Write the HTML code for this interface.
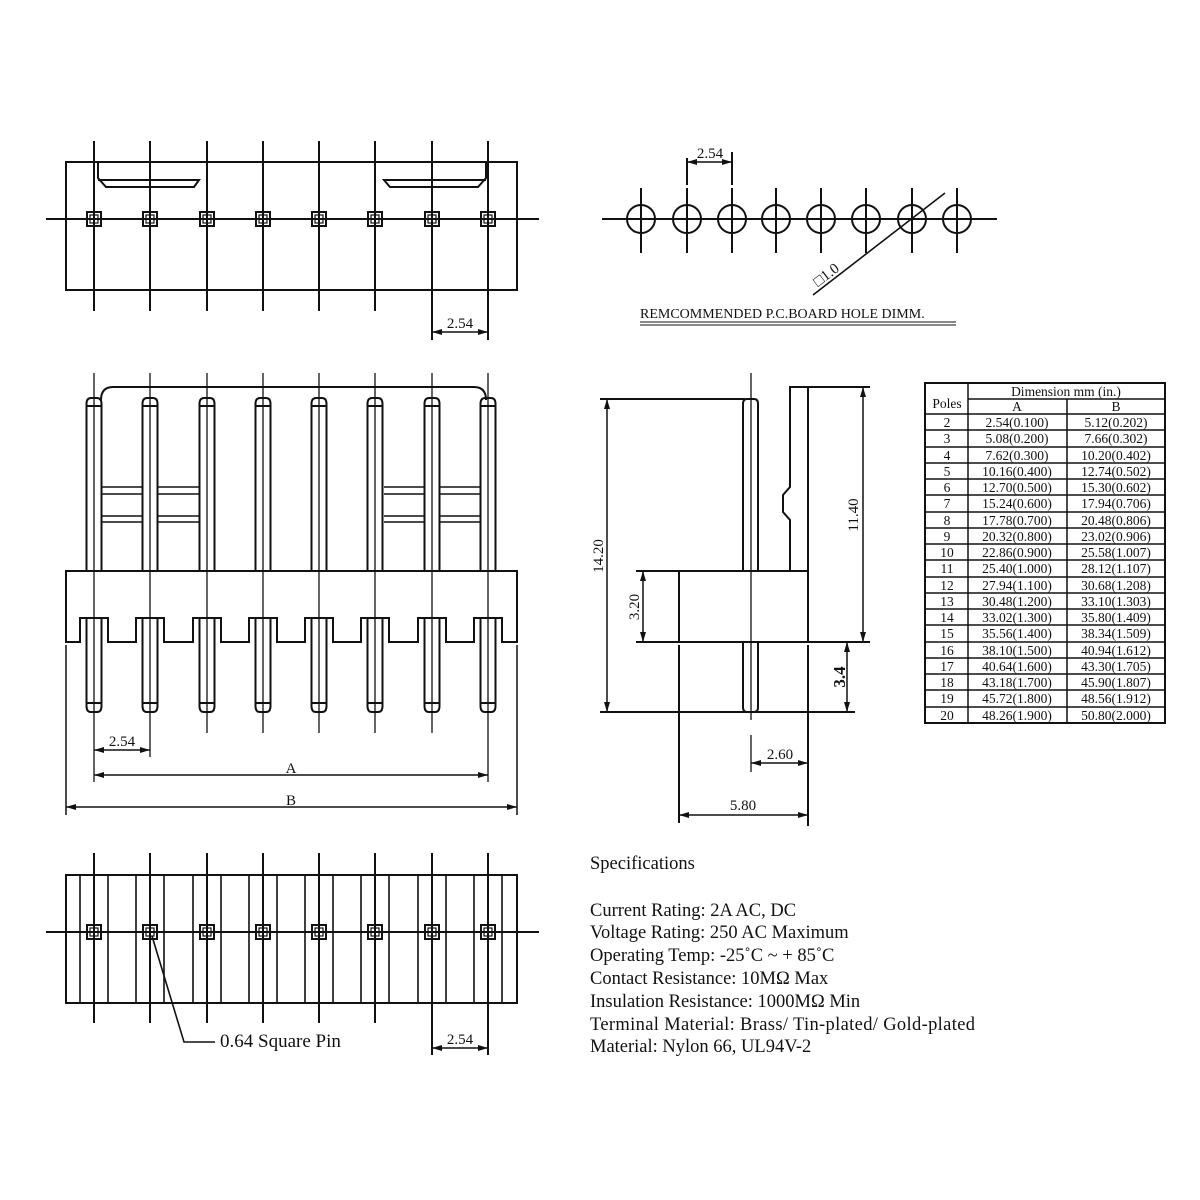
<!DOCTYPE html>
<html><head><meta charset="utf-8"><style>
html,body{margin:0;padding:0;background:#fff}
svg{display:block}
text{font-family:"Liberation Serif",serif;fill:#111}
</style></head><body>
<svg width="1200" height="1200" viewBox="0 0 1200 1200" xmlns="http://www.w3.org/2000/svg">
<defs>
<marker id="a" markerWidth="10" markerHeight="6" refX="10" refY="3" orient="auto-start-reverse" markerUnits="userSpaceOnUse"><path d="M0,0 L10,3 L0,6z" fill="#111"/></marker>
<g id="sq"><rect x="-7" y="-7" width="14" height="14" fill="none" stroke="#111" stroke-width="2"/><rect x="-4" y="-4" width="8" height="8" fill="none" stroke="#111" stroke-width="1.2"/><path d="M0,-4V4M-4,0H4" stroke="#111" stroke-width="1"/></g>
<g id="up"><path d="M-7.5,571V404Q-7.5,398 -3,398H3Q7.5,398 7.5,404V571M-7.5,406H7.5" fill="none" stroke="#111" stroke-width="2"/></g>
<g id="lo"><path d="M-7.5,618V706Q-7.5,712 -3,712H3Q7.5,712 7.5,706V618M-7.5,703H7.5" fill="none" stroke="#111" stroke-width="2"/></g>
</defs>
<g stroke="#111" fill="none" stroke-width="2">
<!-- TOP VIEW -->
<rect x="66" y="162" width="451" height="128"/>
<path d="M98,162V178L106,187H194L199,180H98"/>
<path d="M486,162V178L478,187H390L384,180H486"/>
<path d="M46,219H539"/>
<path d="M94,141V311M150,141V311M207,141V311M263,141V311M319,141V311M375,141V311M432,141V340M488,141V340"/>
<path d="M432,332H488" marker-start="url(#a)" marker-end="url(#a)" stroke-width="1.5"/>
</g>
<use href="#sq" x="94" y="219"/><use href="#sq" x="150" y="219"/><use href="#sq" x="207" y="219"/><use href="#sq" x="263" y="219"/><use href="#sq" x="319" y="219"/><use href="#sq" x="375" y="219"/><use href="#sq" x="432" y="219"/><use href="#sq" x="488" y="219"/>
<text x="460" y="328" font-size="15" text-anchor="middle">2.54</text>

<!-- FRONT VIEW -->
<g stroke="#111" fill="none" stroke-width="2">
<path d="M101,400Q101,387 113,387H474Q486,387 486,400"/>
<path d="M66,571H517V642H502V618H474V642H446V618H418V642H389V618H361V642H333V618H305V642H277V618H249V642H221V618H193V642H164V618H136V642H108V618H80V642H66Z"/>
<path d="M101,487H143M101,494H143M101,516H143M101,522H143M158,487H199M158,494H199M158,516H199M158,522H199M384,487H424M384,494H424M384,516H424M384,522H424M440,487H481M440,494H481M440,516H481M440,522H481" stroke-width="1.6"/>
<path d="M94,373V782M150,373V757M207,373V733M263,373V733M319,373V733M375,373V733M432,373V733M488,373V782" stroke-width="1.3"/>
<path d="M66,645V815M517,645V815" stroke-width="1.5"/>
<path d="M94,750H150" marker-start="url(#a)" marker-end="url(#a)" stroke-width="1.5"/>
<path d="M94,775H488" marker-start="url(#a)" marker-end="url(#a)" stroke-width="1.5"/>
<path d="M66,807H517" marker-start="url(#a)" marker-end="url(#a)" stroke-width="1.5"/>
</g>
<use href="#up" x="94"/><use href="#up" x="150"/><use href="#up" x="207"/><use href="#up" x="263"/><use href="#up" x="319"/><use href="#up" x="375"/><use href="#up" x="432"/><use href="#up" x="488"/>
<use href="#lo" x="94"/><use href="#lo" x="150"/><use href="#lo" x="207"/><use href="#lo" x="263"/><use href="#lo" x="319"/><use href="#lo" x="375"/><use href="#lo" x="432"/><use href="#lo" x="488"/>
<text x="122" y="746" font-size="15" text-anchor="middle">2.54</text>
<text x="291" y="773" font-size="15" text-anchor="middle">A</text>
<text x="291" y="805" font-size="15" text-anchor="middle">B</text>

<!-- BOTTOM VIEW -->
<g stroke="#111" fill="none" stroke-width="2">
<rect x="66" y="875" width="451" height="128"/>
<path d="M80,875V1003M108,875V1003M136,875V1003M164,875V1003M193,875V1003M221,875V1003M249,875V1003M277,875V1003M305,875V1003M333,875V1003M361,875V1003M389,875V1003M418,875V1003M446,875V1003M474,875V1003M502,875V1003" stroke-width="1.6"/>
<path d="M46,932H539"/>
<path d="M94,853V1023M150,853V1023M207,853V1023M263,853V1023M319,853V1023M375,853V1023M432,853V1055M488,853V1055"/>
<path d="M432,1048H488" marker-start="url(#a)" marker-end="url(#a)" stroke-width="1.5"/>
<path d="M152,936L184,1042H215" stroke-width="1.6"/>
</g>
<use href="#sq" x="94" y="932"/><use href="#sq" x="150" y="932"/><use href="#sq" x="207" y="932"/><use href="#sq" x="263" y="932"/><use href="#sq" x="319" y="932"/><use href="#sq" x="375" y="932"/><use href="#sq" x="432" y="932"/><use href="#sq" x="488" y="932"/>
<text x="460" y="1044" font-size="15" text-anchor="middle">2.54</text>
<text x="220" y="1047" font-size="19">0.64 Square Pin</text>

<!-- HOLE PATTERN -->
<g stroke="#111" fill="none" stroke-width="2">
<path d="M602,219H997"/>
<circle cx="641" cy="219" r="14"/><circle cx="687" cy="219" r="14"/><circle cx="732" cy="219" r="14"/><circle cx="776" cy="219" r="14"/><circle cx="821" cy="219" r="14"/><circle cx="866" cy="219" r="14"/><circle cx="912" cy="219" r="14"/><circle cx="957" cy="219" r="14"/>
<path d="M641,188V253M687,188V253M732,188V253M776,188V253M821,188V253M866,188V253M912,188V253M957,188V253"/>
<path d="M687,158V185M732,152V185"/>
<path d="M687,162H732" marker-start="url(#a)" marker-end="url(#a)" stroke-width="1.5"/>
<path d="M813,295L945,193" stroke-width="1.6"/>
<path d="M640,322H956M640,325H956" stroke-width="1"/>
</g>
<text x="710" y="158" font-size="15" text-anchor="middle">2.54</text>
<text x="0" y="0" font-size="15" transform="translate(818,287) rotate(-37)">□1.0</text>
<text x="640" y="318" font-size="14">REMCOMMENDED P.C.BOARD HOLE DIMM.</text>

<!-- SIDE VIEW -->
<g stroke="#111" fill="none" stroke-width="2">
<path d="M743,571V404Q743,399 747,399H754Q758,399 758,404V571"/>
<path d="M743,642V707Q743,712 747,712H754Q758,712 758,707V642"/>
<path d="M751,373V720M751,735V772" stroke-width="1.3"/>
<rect x="679" y="571" width="129" height="71"/>
<path d="M790,571V520L783,512V495L790,487V387H808V571"/>
<path d="M600,399H745M600,712H855M808,387H870M636,642H870M636,571H679"/>
<path d="M679,645V823M808,645V826"/>
<path d="M607,399V712" marker-start="url(#a)" marker-end="url(#a)" stroke-width="1.5"/>
<path d="M863,387V642" marker-start="url(#a)" marker-end="url(#a)" stroke-width="1.5"/>
<path d="M643,571V642" marker-start="url(#a)" marker-end="url(#a)" stroke-width="1.5"/>
<path d="M847,642V712" marker-start="url(#a)" marker-end="url(#a)" stroke-width="1.5"/>
<path d="M751,763H808" marker-start="url(#a)" marker-end="url(#a)" stroke-width="1.5"/>
<path d="M679,815H808" marker-start="url(#a)" marker-end="url(#a)" stroke-width="1.5"/>
</g>
<text font-size="15" text-anchor="middle" transform="translate(603,556) rotate(-90)">14.20</text>
<text font-size="15" text-anchor="middle" fill="#555" transform="translate(858,515) rotate(-90)">11.40</text>
<text font-size="15" text-anchor="middle" transform="translate(639,607) rotate(-90)">3.20</text>
<text font-size="17" font-weight="bold" text-anchor="middle" transform="translate(845,677) rotate(-90)">3.4</text>
<text x="780" y="759" font-size="15" text-anchor="middle">2.60</text>
<text x="743" y="810" font-size="15" text-anchor="middle">5.80</text>

<!-- TABLE -->
<g stroke="#111" fill="none" stroke-width="1.5">
<rect x="925" y="383" width="240" height="340" stroke-width="2"/>
<path d="M968,383V723M968,399H1165M1067,399V723"/>
<path d="M925,414H1165M925,430H1165M925,447H1165M925,463H1165M925,479H1165M925,495H1165M925,512H1165M925,528H1165M925,544H1165M925,560H1165M925,577H1165M925,593H1165M925,609H1165M925,625H1165M925,642H1165M925,658H1165M925,674H1165M925,690H1165M925,707H1165"/>
</g>
<g font-size="13.5" text-anchor="middle">
<text x="1066" y="396">Dimension mm (in.)</text>
<text x="947" y="408">Poles</text>
<text x="1017" y="411">A</text><text x="1116" y="411">B</text>
<text x="947" y="427">2</text><text x="1017" y="427">2.54(0.100)</text><text x="1116" y="427">5.12(0.202)</text>
<text x="947" y="443">3</text><text x="1017" y="443">5.08(0.200)</text><text x="1116" y="443">7.66(0.302)</text>
<text x="947" y="460">4</text><text x="1017" y="460">7.62(0.300)</text><text x="1116" y="460">10.20(0.402)</text>
<text x="947" y="476">5</text><text x="1017" y="476">10.16(0.400)</text><text x="1116" y="476">12.74(0.502)</text>
<text x="947" y="492">6</text><text x="1017" y="492">12.70(0.500)</text><text x="1116" y="492">15.30(0.602)</text>
<text x="947" y="508">7</text><text x="1017" y="508">15.24(0.600)</text><text x="1116" y="508">17.94(0.706)</text>
<text x="947" y="525">8</text><text x="1017" y="525">17.78(0.700)</text><text x="1116" y="525">20.48(0.806)</text>
<text x="947" y="541">9</text><text x="1017" y="541">20.32(0.800)</text><text x="1116" y="541">23.02(0.906)</text>
<text x="947" y="557">10</text><text x="1017" y="557">22.86(0.900)</text><text x="1116" y="557">25.58(1.007)</text>
<text x="947" y="573">11</text><text x="1017" y="573">25.40(1.000)</text><text x="1116" y="573">28.12(1.107)</text>
<text x="947" y="590">12</text><text x="1017" y="590">27.94(1.100)</text><text x="1116" y="590">30.68(1.208)</text>
<text x="947" y="606">13</text><text x="1017" y="606">30.48(1.200)</text><text x="1116" y="606">33.10(1.303)</text>
<text x="947" y="622">14</text><text x="1017" y="622">33.02(1.300)</text><text x="1116" y="622">35.80(1.409)</text>
<text x="947" y="638">15</text><text x="1017" y="638">35.56(1.400)</text><text x="1116" y="638">38.34(1.509)</text>
<text x="947" y="655">16</text><text x="1017" y="655">38.10(1.500)</text><text x="1116" y="655">40.94(1.612)</text>
<text x="947" y="671">17</text><text x="1017" y="671">40.64(1.600)</text><text x="1116" y="671">43.30(1.705)</text>
<text x="947" y="687">18</text><text x="1017" y="687">43.18(1.700)</text><text x="1116" y="687">45.90(1.807)</text>
<text x="947" y="703">19</text><text x="1017" y="703">45.72(1.800)</text><text x="1116" y="703">48.56(1.912)</text>
<text x="947" y="720">20</text><text x="1017" y="720">48.26(1.900)</text><text x="1116" y="720">50.80(2.000)</text>
</g>

<!-- SPECS -->
<g font-size="18.5">
<text x="590" y="869">Specifications</text>
<text x="590" y="916">Current Rating: 2A AC, DC</text>
<text x="590" y="938">Voltage Rating: 250 AC Maximum</text>
<text x="590" y="961">Operating Temp: -25˚C ~ + 85˚C</text>
<text x="590" y="984">Contact Resistance: 10MΩ Max</text>
<text x="590" y="1007">Insulation Resistance: 1000MΩ Min</text>
<text x="590" y="1030" textLength="385">Terminal Material: Brass/ Tin-plated/ Gold-plated</text>
<text x="590" y="1052">Material: Nylon 66, UL94V-2</text>
</g>
</svg>
</body></html>
